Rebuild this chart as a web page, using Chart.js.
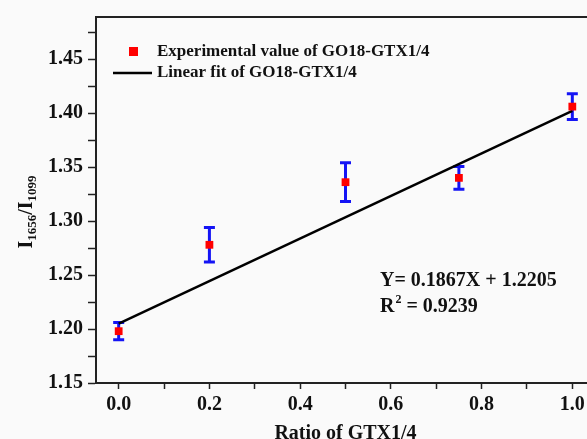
<!DOCTYPE html>
<html>
<head>
<meta charset="utf-8">
<script src="https://cdn.jsdelivr.net/npm/chart.js@4.4.1/dist/chart.umd.min.js"></script>
<style>
  html, body { margin: 0; padding: 0; background: #fafafa; overflow: hidden; }
  #wrap { width: 610px; height: 446px; position: relative; }
</style>
</head>
<body>
<div id="wrap"><canvas id="chart"></canvas></div>
<script>
// measured values
const ratios = [0, 0.2, 0.5, 0.75, 1.0];
const intensityRatio = [1.198, 1.278, 1.336, 1.340, 1.406];
const errors = [0.008, 0.016, 0.018, 0.0105, 0.012];

// fitted line as drawn
const fitX = [0, 1.0];
const fitY = [1.205, 1.402];

const xTickValues = [0, 0.2, 0.4, 0.6, 0.8, 1.0];
const xTickLabels = ['0.0', '0.2', '0.4', '0.6', '0.8', '1.0'];
const yTickValues = [1.15, 1.20, 1.25, 1.30, 1.35, 1.40, 1.45];
const yTickLabels = ['1.15', '1.20', '1.25', '1.30', '1.35', '1.40', '1.45'];

const FONT = "'Liberation Serif', 'Times New Roman', serif";

// major + minor ticks (minor halfway between majors)
function withMinor(values, extraTop) {
  const out = [];
  values.forEach((v, i) => {
    out.push({ value: v, major: true });
    const next = i < values.length - 1 ? values[i + 1] : (extraTop ? v + (v - values[i - 1]) : null);
    if (next !== null) out.push({ value: (v + next) / 2, major: false });
  });
  return out;
}

const errorBars = {
  id: 'errorBars',
  beforeDatasetsDraw(chart) {
    const { ctx, scales: { x, y } } = chart;
    ctx.save();
    ctx.strokeStyle = '#1414f5';
    ctx.lineWidth = 3;
    ratios.forEach((r, i) => {
      const px = x.getPixelForValue(r);
      const top = y.getPixelForValue(intensityRatio[i] + errors[i]);
      const bot = y.getPixelForValue(intensityRatio[i] - errors[i]);
      ctx.beginPath();
      ctx.moveTo(px, top); ctx.lineTo(px, bot);
      ctx.moveTo(px - 5.5, top); ctx.lineTo(px + 5.5, top);
      ctx.moveTo(px - 5.5, bot); ctx.lineTo(px + 5.5, bot);
      ctx.stroke();
    });
    ctx.restore();
  }
};

const decorations = {
  id: 'decorations',
  afterDraw(chart) {
    const { ctx, chartArea: a } = chart;
    ctx.save();
    // top and right spines
    ctx.strokeStyle = '#222';
    ctx.lineWidth = 2;
    ctx.beginPath();
    ctx.moveTo(a.left, a.top); ctx.lineTo(a.right, a.top); ctx.lineTo(a.right, a.bottom);
    ctx.stroke();

    // legend
    const ds = chart.data.datasets;
    ctx.font = 'bold 17px ' + FONT;
    ctx.textBaseline = 'middle';
    ctx.textAlign = 'left';
    ctx.fillStyle = '#ff0000';
    ctx.fillRect(129, 47, 9, 9);
    ctx.fillStyle = '#111';
    ctx.fillText(ds[0].label, 157, 52);
    ctx.strokeStyle = '#000';
    ctx.lineWidth = 2.5;
    ctx.beginPath();
    ctx.moveTo(113, 73); ctx.lineTo(152, 73);
    ctx.stroke();
    ctx.fillText(ds[1].label, 157, 73);

    // equation
    ctx.font = 'bold 20px ' + FONT;
    ctx.fillText('Y= 0.1867X + 1.2205', 380, 281);
    ctx.fillText('R', 380, 307);
    let w = ctx.measureText('R').width;
    ctx.font = 'bold 12px ' + FONT;
    ctx.fillText('2', 380 + w + 1, 300);
    const w2 = ctx.measureText('2').width;
    ctx.font = 'bold 20px ' + FONT;
    ctx.fillText(' = 0.9239', 380 + w + w2 + 1, 307);

    // y title with subscripts, rotated
    ctx.translate(27, 212);
    ctx.rotate(-Math.PI / 2);
    const parts = [['I', false], ['1656', true], ['/I', false], ['1099', true]];
    let total = 0;
    parts.forEach(([t, sub]) => {
      ctx.font = (sub ? 'bold 13px ' : 'bold 20px ') + FONT;
      total += ctx.measureText(t).width;
    });
    let cx = -total / 2;
    parts.forEach(([t, sub]) => {
      ctx.font = (sub ? 'bold 13px ' : 'bold 20px ') + FONT;
      ctx.fillText(t, cx, sub ? 6 : 0);
      cx += ctx.measureText(t).width;
    });
    ctx.restore();
  }
};

new Chart(document.getElementById('chart'), {
  type: 'scatter',
  data: {
    datasets: [
      {
        label: 'Experimental value of GO18-GTX1/4',
        data: ratios.map((r, i) => ({ x: r, y: intensityRatio[i] })),
        pointStyle: 'rect',
        pointRadius: 5.5,
        pointBorderWidth: 0,
        backgroundColor: '#ff0000',
        borderColor: '#ff0000',
        showLine: false
      },
      {
        label: 'Linear fit of GO18-GTX1/4',
        data: fitX.map((v, i) => ({ x: v, y: fitY[i] })),
        showLine: true,
        borderColor: '#000',
        borderWidth: 2.5,
        pointRadius: 0
      }
    ]
  },
  options: {
    responsive: true,
    maintainAspectRatio: false,
    animation: false,
    layout: { padding: { top: 12, right: 15, left: 0, bottom: 0 } },
    plugins: { legend: { display: false }, tooltip: { enabled: false } },
    scales: {
      x: {
        type: 'linear',
        min: -0.05,
        max: 1.05,
        afterBuildTicks: s => { s.ticks = withMinor(xTickValues, false); },
        afterFit: s => { s.height = 63; },
        grid: { drawOnChartArea: false, tickLength: 6, color: '#222', tickWidth: 1.5 },
        border: { color: '#222', width: 2 },
        ticks: {
          color: '#111',
          padding: 4,
          maxRotation: 0,
          autoSkip: false,
          font: { family: FONT, size: 20, weight: 'bold' },
          callback: v => {
            const i = xTickValues.findIndex(t => Math.abs(t - v) < 1e-9);
            return i >= 0 ? xTickLabels[i] : '';
          }
        },
        title: {
          display: true,
          text: 'Ratio of GTX1/4',
          color: '#111',
          padding: { top: 0, bottom: 0 },
          font: { family: FONT, size: 20, weight: 'bold' }
        }
      },
      y: {
        type: 'linear',
        min: 1.15,
        max: 1.489,
        afterBuildTicks: s => { s.ticks = withMinor(yTickValues, true); },
        afterFit: s => { s.width = 96; },
        grid: { drawOnChartArea: false, tickLength: 8, color: '#222', tickWidth: 1.5 },
        border: { color: '#222', width: 2 },
        ticks: {
          color: '#111',
          padding: 5,
          autoSkip: false,
          font: { family: FONT, size: 20, weight: 'bold' },
          callback: v => {
            const i = yTickValues.findIndex(t => Math.abs(t - v) < 1e-9);
            return i >= 0 ? yTickLabels[i] : '';
          }
        }
      }
    }
  },
  plugins: [errorBars, decorations]
});
</script>
</body>
</html>
